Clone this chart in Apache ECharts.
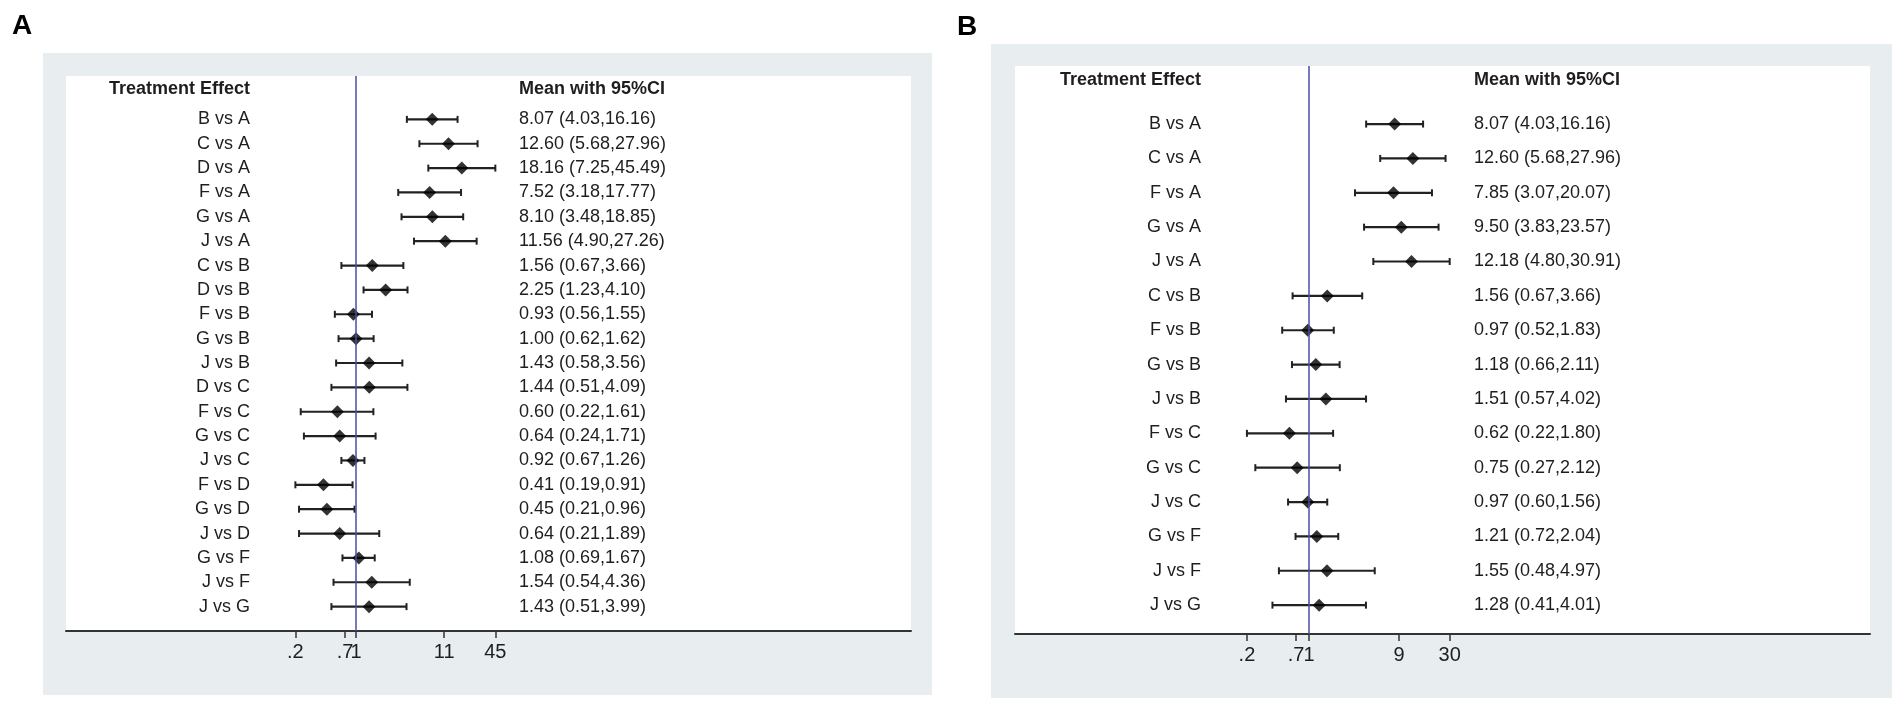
<!DOCTYPE html>
<html>
<head>
<meta charset="utf-8">
<script src="https://cdn.jsdelivr.net/npm/echarts@6/dist/echarts.min.js"></script>
<style>
  html, body { margin: 0; padding: 0; background: #fff; }
  #chart { width: 1901px; height: 707px; }
</style>
</head>
<body>
<div id="chart"></div>
<script>
// panel A
const labelsA = ["B vs A", "C vs A", "D vs A", "F vs A", "G vs A", "J vs A", "C vs B", "D vs B", "F vs B", "G vs B", "J vs B",
  "D vs C", "F vs C", "G vs C", "J vs C", "F vs D", "G vs D", "J vs D", "G vs F", "J vs F", "J vs G"];
const meanA = [8.07, 12.60, 18.16, 7.52, 8.10, 11.56, 1.56, 2.25, 0.93, 1.00, 1.43, 1.44, 0.60, 0.64, 0.92, 0.41, 0.45, 0.64, 1.08, 1.54, 1.43];
const lowA = [4.03, 5.68, 7.25, 3.18, 3.48, 4.90, 0.67, 1.23, 0.56, 0.62, 0.58, 0.51, 0.22, 0.24, 0.67, 0.19, 0.21, 0.21, 0.69, 0.54, 0.51];
const highA = [16.16, 27.96, 45.49, 17.77, 18.85, 27.26, 3.66, 4.10, 1.55, 1.62, 3.56, 4.09, 1.61, 1.71, 1.26, 0.91, 0.96, 1.89, 1.67, 4.36, 3.99];
const tickValuesA = [0.19, 0.74, 1, 11.2, 45.49];
const tickLabelsA = [".2", ".7", "1", "11", "45"];

// panel B
const labelsB = ["B vs A", "C vs A", "F vs A", "G vs A", "J vs A", "C vs B", "F vs B", "G vs B", "J vs B",
  "F vs C", "G vs C", "J vs C", "G vs F", "J vs F", "J vs G"];
const meanB = [8.07, 12.60, 7.85, 9.50, 12.18, 1.56, 0.97, 1.18, 1.51, 0.62, 0.75, 0.97, 1.21, 1.55, 1.28];
const lowB = [4.03, 5.68, 3.07, 3.83, 4.80, 0.67, 0.52, 0.66, 0.57, 0.22, 0.27, 0.60, 0.72, 0.48, 0.41];
const highB = [16.16, 27.96, 20.07, 23.57, 30.91, 3.66, 1.83, 2.11, 4.02, 1.80, 2.12, 1.56, 2.04, 4.97, 4.01];
const tickValuesB = [0.22, 0.73, 1, 9, 30.91];
const tickLabelsB = [".2", ".7", "1", "9", "30"];

const FONT = "'Liberation Sans', Arial, sans-serif";
const TEXT = "#1e1e1e";
const PANEL_BG = "#e8eef0";
const REF_LINE = "#4b4ba6";

function ciText(m, lo, hi) {
  return `${m.toFixed(2)} (${lo.toFixed(2)},${hi.toFixed(2)})`;
}

function rowIndexes(n) {
  return Array.from({ length: n }, (_, i) => i + 1);
}

function tickFormatter(values, labels) {
  return (v) => {
    const i = values.findIndex((t) => Math.abs(Math.log(v / t)) < 1e-6);
    return i >= 0 ? labels[i] : "";
  };
}

function renderBar(params, api) {
  const y = api.value(2);
  const a = api.coord([api.value(0), y]);
  const b = api.coord([api.value(1), y]);
  const cap = 3.5;
  const bar = { stroke: "#222", lineWidth: 2.2 };
  const capStyle = { stroke: "#222", lineWidth: 2 };
  return {
    type: "group",
    children: [
      { type: "line", shape: { x1: a[0], y1: a[1], x2: b[0], y2: b[1] }, style: bar },
      { type: "line", shape: { x1: a[0], y1: a[1] - cap, x2: a[0], y2: a[1] + cap }, style: capStyle },
      { type: "line", shape: { x1: b[0], y1: b[1] - cap, x2: b[0], y2: b[1] + cap }, style: capStyle },
    ],
  };
}

// one forest panel: grid, axes and series
function panel(idx, p) {
  const rows = rowIndexes(p.labels.length);
  const grid = {
    left: p.left, top: p.top, width: p.width, height: p.height,
    show: true, backgroundColor: "#fff", borderWidth: 0,
    outerBoundsMode: "none",
  };
  const xAxis = {
    gridIndex: idx,
    type: "log",
    min: p.xMin,
    max: p.xMax,
    position: "bottom",
    axisLine: { show: true, onZero: false, lineStyle: { color: "#333", width: 2 } },
    axisTick: { show: true, length: 7, customValues: p.tickValues, lineStyle: { color: "#333", width: 1.5 } },
    axisLabel: {
      customValues: p.tickValues,
      formatter: tickFormatter(p.tickValues, p.tickLabels),
      margin: 11, fontSize: 20, fontFamily: FONT, color: TEXT,
    },
    splitLine: { show: false },
  };
  const yBase = {
    gridIndex: idx,
    type: "value",
    inverse: true,
    min: p.yMin,
    max: p.yMax,
    axisLine: { show: false },
    axisTick: { show: false },
    splitLine: { show: false },
  };
  const yLeft = Object.assign({}, yBase, {
    position: "left",
    axisLabel: {
      customValues: rows,
      formatter: (v) => p.labels[v - 1] || "",
      margin: p.labelMargin, fontSize: 18, fontFamily: FONT, color: TEXT,
    },
  });
  const yRight = Object.assign({}, yBase, {
    position: "right",
    axisLabel: {
      customValues: rows,
      formatter: (v) => (v >= 1 && v <= p.mean.length ? ciText(p.mean[v - 1], p.low[v - 1], p.high[v - 1]) : ""),
      margin: p.ciMargin, fontSize: 18, fontFamily: FONT, color: TEXT,
    },
  });
  const bars = {
    type: "custom",
    xAxisIndex: idx,
    yAxisIndex: idx * 2,
    renderItem: renderBar,
    encode: { x: [0, 1], y: 2 },
    data: p.low.map((lo, i) => [lo, p.high[i], i + 1]),
    silent: true,
    z: 2,
  };
  const points = {
    type: "scatter",
    xAxisIndex: idx,
    yAxisIndex: idx * 2,
    symbol: "diamond",
    symbolSize: [13, 13],
    itemStyle: { color: "#000" },
    data: p.mean.map((m, i) => [m, i + 1]),
    silent: true,
    z: 3,
    markLine: {
      silent: true,
      symbol: "none",
      label: { show: false },
      lineStyle: { color: REF_LINE, width: 1.5, type: "solid" },
      data: [{ xAxis: 1 }],
    },
  };
  return { grid, xAxis, yAxes: [yLeft, yRight], series: [bars, points] };
}

const panelA = panel(0, {
  labels: labelsA, mean: meanA, low: lowA, high: highA,
  tickValues: tickValuesA, tickLabels: tickLabelsA,
  left: 66, top: 76, width: 845, height: 555,
  xMin: 3.544e-4, xMax: 4.013e6, yMin: -0.78, yMax: 22,
  labelMargin: -184, ciMargin: -392,
});
const panelB = panel(1, {
  labels: labelsB, mean: meanB, low: lowB, high: highB,
  tickValues: tickValuesB, tickLabels: tickLabelsB,
  left: 1015, top: 66, width: 855, height: 568,
  xMin: 7.686e-4, xMax: 8.76e5, yMin: -0.69, yMax: 15.84,
  labelMargin: -186, ciMargin: -396,
});

function header(x, y, text, align) {
  return {
    type: "text", x, y,
    style: { text, fill: TEXT, font: `bold 18px ${FONT}`, align, verticalAlign: "middle" },
  };
}

const chart = echarts.init(document.getElementById("chart"), null, { renderer: "canvas" });
chart.setOption({
  animation: false,
  backgroundColor: "#fff",
  graphic: [
    { type: "rect", z: -1, shape: { x: 43, y: 53, width: 889, height: 642 }, style: { fill: PANEL_BG } },
    { type: "rect", z: -1, shape: { x: 991, y: 44, width: 901, height: 654 }, style: { fill: PANEL_BG } },
    { type: "text", x: 12, y: 26, style: { text: "A", fill: "#000", font: `bold 28px ${FONT}`, verticalAlign: "middle" } },
    { type: "text", x: 957, y: 27, style: { text: "B", fill: "#000", font: `bold 28px ${FONT}`, verticalAlign: "middle" } },
    header(250, 89, "Treatment Effect", "right"),
    header(519, 89, "Mean with 95%CI", "left"),
    header(1201, 80, "Treatment Effect", "right"),
    header(1474, 80, "Mean with 95%CI", "left"),
  ],
  grid: [panelA.grid, panelB.grid],
  xAxis: [panelA.xAxis, panelB.xAxis],
  yAxis: [...panelA.yAxes, ...panelB.yAxes],
  series: [...panelA.series, ...panelB.series],
});

window.addEventListener("resize", chart.resize);
</script>
</body>
</html>
